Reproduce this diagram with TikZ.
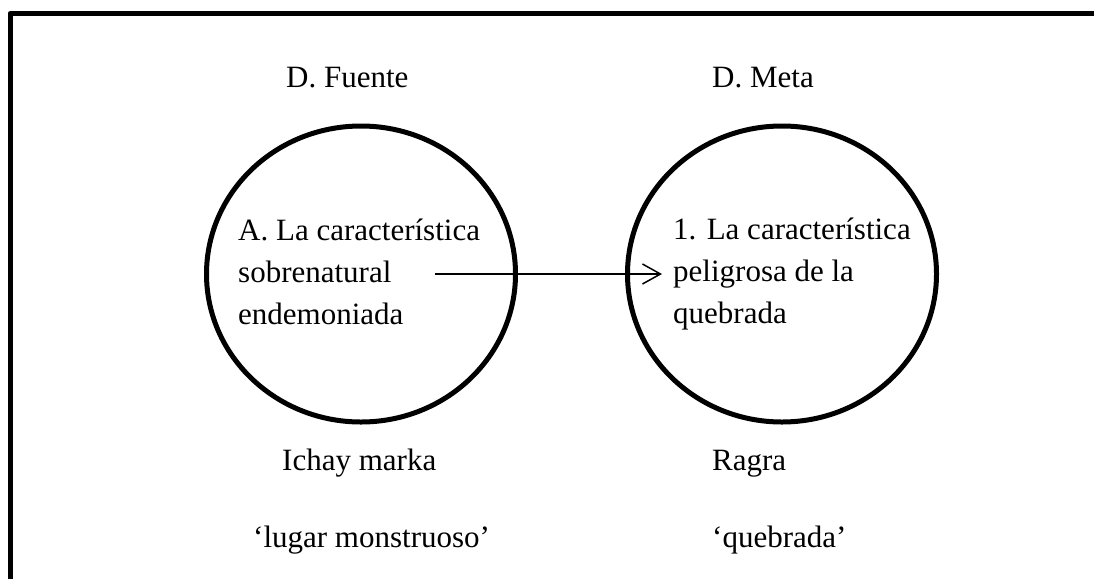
\documentclass[tikz,border=0pt]{standalone}
\usepackage{fontspec}
\setmainfont{Liberation Serif}
\usetikzlibrary{shapes.geometric, arrows.meta, positioning}

\begin{document}
\begin{tikzpicture}[x=1pt, y=-1pt,
  lbl/.style={font=\fontsize{31}{42}\selectfont, inner sep=0pt, anchor=base west},
  dom/.style={draw, ellipse, line width=5pt, inner sep=0pt, minimum width=309, minimum height=296}]
\useasboundingbox (0,0) rectangle (1094,579);

% Frame (cut off at right and bottom)
\draw[line width=5pt, line join=round] (1094,13.5) -- (10,13.5) -- (10,579);

% Domains
\node[dom] (fuente) at (361,274) {};
\node[dom] (meta) at (782,274) {};

% Headings
\node[lbl] (tfuente) at (286,87) {D. Fuente};
\node[lbl] (tmeta) at (712,87) {D. Meta};

% Domain content (anchored on the last line)
\node[lbl, align=left] (cfuente) at (238,324) {A. La característica\\sobrenatural\\endemoniada};
\node[lbl, align=left] (cmeta) at (673,323) {1. La característica\\peligrosa de la\\quebrada};

% Mapping
\coordinate (src) at (435,274);
\coordinate (dst) at (662,274);
\draw[-{Straight Barb[length=18pt, width=20pt]}, line width=1.5pt] (src) -- (dst);

% Words and glosses
\node[lbl] (wfuente) at (282,470) {Ichay marka};
\node[lbl] (wmeta) at (712,470) {Ragra};
\node[lbl] (gfuente) at (253,547) {‘lugar monstruoso’};
\node[lbl] (gmeta) at (712,547) {‘quebrada’};
\end{tikzpicture}
\end{document}
